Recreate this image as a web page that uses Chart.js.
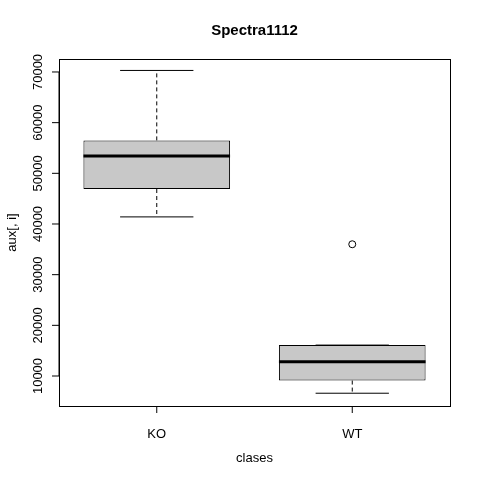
<!DOCTYPE html>
<html><head><meta charset="utf-8">
<script src="https://cdn.jsdelivr.net/npm/chart.js@4"></script>
<style>body{margin:0;background:#fff}#wrap{width:480px;height:480px}</style>
</head><body><div id="wrap"><canvas id="c" width="480" height="480"></canvas></div>
<script>
const classes = ['KO', 'WT'];
const lowWhisker = [41400, 6600];
const q1 = [46900, 9100];
const median = [53400, 12800];
const q3 = [56500, 16100];
const highWhisker = [70300, 16100];
const outliers = [[], [36000]];
const yTicks = [10000, 20000, 30000, 40000, 50000, 60000, 70000];

const boxPlugin = {
  id: 'boxPlugin',
  afterDatasetsDraw(chart) {
    const ctx = chart.ctx, x = chart.scales.x, y = chart.scales.y, a = chart.chartArea;
    const font = '13px "Liberation Sans", Arial, sans-serif';
    ctx.save();
    ctx.strokeStyle = '#000'; ctx.fillStyle = '#000';
    classes.forEach((c, i) => {
      const cx = x.getPixelForValue(i);
      const meta = chart.getDatasetMeta(0).data[i];
      const half = meta.width / 2;
      ctx.lineWidth = 1;
      ctx.setLineDash([4, 3]);
      ctx.beginPath();
      ctx.moveTo(cx, y.getPixelForValue(q3[i])); ctx.lineTo(cx, y.getPixelForValue(highWhisker[i]));
      ctx.moveTo(cx, y.getPixelForValue(q1[i])); ctx.lineTo(cx, y.getPixelForValue(lowWhisker[i]));
      ctx.stroke();
      ctx.setLineDash([]);
      ctx.beginPath();
      [highWhisker[i], lowWhisker[i]].forEach(v => {
        const py = y.getPixelForValue(v);
        ctx.moveTo(cx - half / 2, py); ctx.lineTo(cx + half / 2, py);
      });
      ctx.stroke();
      ctx.lineWidth = 3;
      ctx.beginPath();
      const my = y.getPixelForValue(median[i]);
      ctx.moveTo(cx - half, my); ctx.lineTo(cx + half, my);
      ctx.stroke();
      ctx.lineWidth = 1;
      outliers[i].forEach(v => {
        ctx.beginPath(); ctx.arc(cx, y.getPixelForValue(v), 3.5, 0, Math.PI * 2); ctx.stroke();
      });
      // x ticks
      ctx.beginPath(); ctx.moveTo(cx, a.bottom); ctx.lineTo(cx, a.bottom + 7); ctx.stroke();
      ctx.font = font; ctx.textAlign = 'center'; ctx.textBaseline = 'top';
      ctx.fillText(c, cx, a.bottom + 22);
    });
    // frame
    ctx.lineWidth = 1;
    ctx.strokeRect(a.left + 0.5, a.top + 0.5, a.right - a.left, a.bottom - a.top);
    // y ticks
    yTicks.forEach(v => {
      const py = y.getPixelForValue(v);
      ctx.beginPath(); ctx.moveTo(a.left, py); ctx.lineTo(a.left - 7, py); ctx.stroke();
      ctx.save(); ctx.translate(a.left - 14, py); ctx.rotate(-Math.PI / 2);
      ctx.font = font; ctx.textAlign = 'center'; ctx.textBaseline = 'bottom';
      ctx.fillText(String(v), 0, 0); ctx.restore();
    });
    ctx.beginPath();
    ctx.moveTo(a.left, y.getPixelForValue(yTicks[0])); ctx.lineTo(a.left, y.getPixelForValue(yTicks[yTicks.length - 1]));
    ctx.stroke();
    // titles
    ctx.font = font; ctx.textAlign = 'center'; ctx.textBaseline = 'middle';
    ctx.fillText('clases', (a.left + a.right) / 2, 458);
    ctx.save(); ctx.translate(12, (a.top + a.bottom) / 2); ctx.rotate(-Math.PI / 2);
    ctx.fillText('aux[, i]', 0, 0); ctx.restore();
    ctx.font = 'bold 15px "Liberation Sans", Arial, sans-serif';
    ctx.fillText('Spectra1112', (a.left + a.right) / 2, 31);
    ctx.restore();
  }
};

new Chart(document.getElementById('c'), {
  type: 'bar',
  data: {
    labels: classes,
    datasets: [{
      data: classes.map((c, i) => [q1[i], q3[i]]),
      backgroundColor: '#c8c8c8', borderColor: '#000', borderWidth: 1, borderSkipped: false,
      categoryPercentage: 0.75, barPercentage: 1
    }]
  },
  options: {
    responsive: false, animation: false,
    layout: { padding: { left: 59, right: 30, top: 59, bottom: 74 } },
    plugins: { legend: { display: false }, tooltip: { enabled: false } },
    scales: {
      x: { display: false, offset: true },
      y: { display: false, min: 4080, max: 72560 }
    }
  },
  plugins: [boxPlugin]
});
</script></body></html>
